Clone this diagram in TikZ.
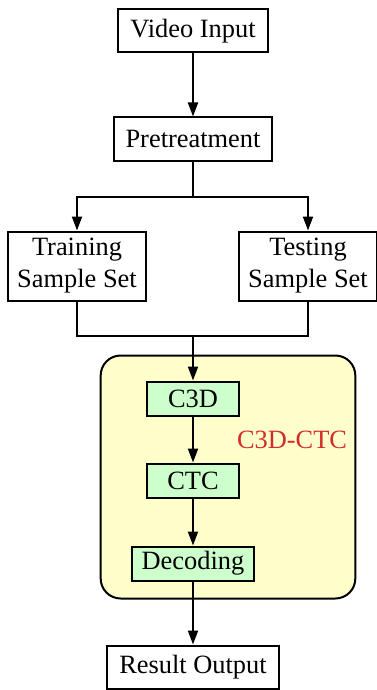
\documentclass[tikz,border=0pt]{standalone}
\usepackage{fontspec}
\setmainfont{Liberation Serif}
\usetikzlibrary{positioning,calc,arrows.meta,backgrounds}
\definecolor{modulefill}{HTML}{FFFFCC}
\definecolor{stagefill}{HTML}{CCFFCC}
\definecolor{modulered}{HTML}{D42B2B}

\begin{document}
\begin{tikzpicture}[
    font=\fontsize{13.2}{16}\selectfont,
    box/.style={rectangle, draw, line width=1pt, minimum height=21.5pt, inner xsep=6pt, align=center},
    setbox/.style={box, inner xsep=4.5pt, inner ysep=2.5pt, minimum height=34.5pt},
    stagebox/.style={box, fill=stagefill, minimum width=46pt, minimum height=17pt, inner xsep=5pt, inner ysep=2pt},
    modulebox/.style={draw, line width=1pt, fill=modulefill, rounded corners=10pt},
    modlabel/.style={text=modulered, anchor=west},
    arrow/.style={-{Triangle[length=7pt,width=5pt]}, line width=1pt},
    line/.style={line width=1pt}
]
\useasboundingbox (0,0) rectangle (188pt,-345pt);

\node[box] (video) at (96.5pt,-15.5pt) {Video Input};
\node[box, below=31.5pt of video] (pre) {Pretreatment};
\coordinate[below=17.5pt of pre] (split);

\node[setbox, below=34.5pt of pre, xshift=-58pt] (train) {Training\\Sample Set};
\node[setbox, below=34.5pt of pre, xshift=57.5pt] (test) {Testing\\Sample Set};
\coordinate (merge) at ($(pre |- train.south)+(0,-17pt)$);

% C3D-CTC module
\node[stagebox, below=22.5pt of merge] (c3d) {C3D};
\node[stagebox, below=23pt of c3d] (ctc) {CTC};
\node[stagebox, below=23.5pt of ctc] (decode) {Decoding};
\node[modlabel, xshift=-5pt] (modname) at ($(c3d.south east)!0.5!(ctc.north east)$) {C3D-CTC};
\begin{scope}[on background layer]
\draw[modulebox] ($(decode.south west)+(-15pt,-8.5pt)$) rectangle ($(c3d.north -| decode.east)+(50pt,12.5pt)$);
\end{scope}

\node[box, below=31.5pt of decode] (result) {Result Output};

\draw[arrow] (video) -- (pre);
\draw[line] (pre) -- (split);
\draw[arrow] (split) -| (train);
\draw[arrow] (split) -| (test);
\draw[line] (train) |- (merge);
\draw[line] (test) |- (merge);
\draw[arrow] (merge) -- (c3d);
\draw[arrow] (c3d) -- (ctc);
\draw[arrow] (ctc) -- (decode);
\draw[arrow] (decode) -- (result);
\end{tikzpicture}
\end{document}
